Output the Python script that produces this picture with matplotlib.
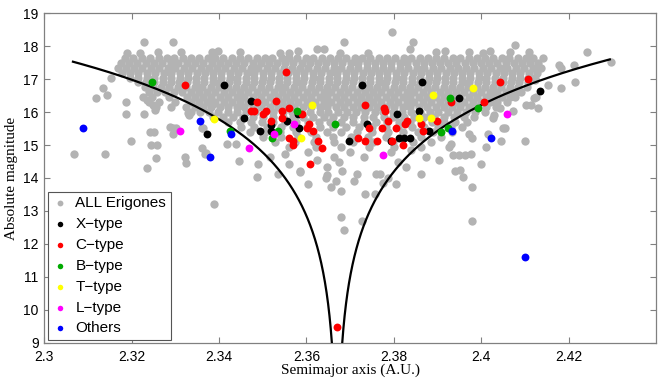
import matplotlib
matplotlib.use('Agg')
import matplotlib.pyplot as plt
import numpy as np

# ---------------- data ----------------
# dense core of the "ALL Erigones" cloud, read row by row (H, semimajor axes)
gray_rows = [
    (17.65, [2.3185, 2.3203, 2.3224, 2.3241, 2.3262, 2.3280, 2.3297, 2.3318, 2.3336, 2.3353, 2.3374, 2.3391, 2.3410, 2.3430, 2.3447, 2.3466, 2.3487, 2.3504, 2.3522, 2.3543, 2.3560, 2.3578, 2.3599, 2.3616, 2.3635, 2.3655, 2.3672, 2.3691, 2.3711, 2.3728, 2.3746, 2.3767, 2.3784, 2.3803, 2.3823, 2.3840, 2.3859, 2.3879, 2.3896, 2.3914, 2.3935, 2.3952, 2.3971, 2.3991, 2.4008, 2.4027, 2.4047, 2.4064, 2.4083, 2.4102, 2.4118]),
    (17.50, [2.3176, 2.3195, 2.3213, 2.3233, 2.3251, 2.3270, 2.3289, 2.3307, 2.3327, 2.3345, 2.3364, 2.3383, 2.3401, 2.3420, 2.3439, 2.3457, 2.3477, 2.3495, 2.3514, 2.3532, 2.3551, 2.3570, 2.3589, 2.3607, 2.3626, 2.3645, 2.3663, 2.3682, 2.3701, 2.3719, 2.3738, 2.3757, 2.3775, 2.3794, 2.3813, 2.3831, 2.3850, 2.3869, 2.3888, 2.3906, 2.3925, 2.3943, 2.3962, 2.3981, 2.4000, 2.4018, 2.4037, 2.4056, 2.4074, 2.4093, 2.4112, 2.4130]),
    (17.35, [2.3168, 2.3186, 2.3206, 2.3224, 2.3244, 2.3262, 2.3282, 2.3300, 2.3320, 2.3338, 2.3358, 2.3376, 2.3396, 2.3414, 2.3434, 2.3452, 2.3472, 2.3490, 2.3510, 2.3528, 2.3548, 2.3566, 2.3586, 2.3604, 2.3624, 2.3642, 2.3662, 2.3680, 2.3700, 2.3718, 2.3738, 2.3756, 2.3776, 2.3794, 2.3814, 2.3832, 2.3852, 2.3870, 2.3890, 2.3908, 2.3928, 2.3946, 2.3966, 2.3984, 2.4004, 2.4022, 2.4042, 2.4060, 2.4080, 2.4098, 2.4118, 2.4136]),
    (17.20, [2.3178, 2.3197, 2.3215, 2.3235, 2.3253, 2.3273, 2.3291, 2.3311, 2.3329, 2.3349, 2.3367, 2.3387, 2.3405, 2.3425, 2.3443, 2.3463, 2.3481, 2.3501, 2.3519, 2.3539, 2.3557, 2.3577, 2.3595, 2.3615, 2.3633, 2.3653, 2.3671, 2.3691, 2.3709, 2.3729, 2.3747, 2.3767, 2.3785, 2.3805, 2.3823, 2.3843, 2.3861, 2.3881, 2.3899, 2.3919, 2.3937, 2.3957, 2.3975, 2.3995, 2.4013, 2.4033, 2.4051, 2.4071, 2.4089, 2.4109, 2.4127]),
    (17.05, [2.3196, 2.3214, 2.3234, 2.3252, 2.3272, 2.3290, 2.3310, 2.3328, 2.3348, 2.3366, 2.3386, 2.3404, 2.3424, 2.3442, 2.3462, 2.3480, 2.3500, 2.3518, 2.3538, 2.3556, 2.3576, 2.3594, 2.3614, 2.3632, 2.3652, 2.3670, 2.3690, 2.3708, 2.3728, 2.3746, 2.3766, 2.3784, 2.3804, 2.3822, 2.3842, 2.3860, 2.3880, 2.3898, 2.3918, 2.3936, 2.3956, 2.3974, 2.3994, 2.4012, 2.4032, 2.4050, 2.4070, 2.4088, 2.4108, 2.4124]),
    (16.90, [2.3214, 2.3233, 2.3251, 2.3271, 2.3289, 2.3309, 2.3327, 2.3347, 2.3365, 2.3385, 2.3403, 2.3423, 2.3441, 2.3461, 2.3479, 2.3499, 2.3517, 2.3537, 2.3555, 2.3575, 2.3593, 2.3613, 2.3631, 2.3651, 2.3669, 2.3689, 2.3707, 2.3727, 2.3745, 2.3765, 2.3783, 2.3803, 2.3821, 2.3841, 2.3859, 2.3879, 2.3897, 2.3917, 2.3935, 2.3955, 2.3973, 2.3993, 2.4011, 2.4031, 2.4049, 2.4069, 2.4087, 2.4107]),
    (16.75, [2.3230, 2.3248, 2.3268, 2.3286, 2.3306, 2.3324, 2.3344, 2.3362, 2.3382, 2.3400, 2.3420, 2.3438, 2.3458, 2.3476, 2.3496, 2.3514, 2.3534, 2.3552, 2.3572, 2.3590, 2.3610, 2.3628, 2.3648, 2.3666, 2.3686, 2.3704, 2.3724, 2.3742, 2.3762, 2.3780, 2.3800, 2.3818, 2.3838, 2.3856, 2.3876, 2.3894, 2.3914, 2.3932, 2.3952, 2.3970, 2.3990, 2.4008, 2.4028, 2.4046, 2.4066, 2.4084, 2.4104]),
    (16.60, [2.3240, 2.3259, 2.3277, 2.3297, 2.3315, 2.3335, 2.3353, 2.3373, 2.3391, 2.3411, 2.3429, 2.3449, 2.3467, 2.3487, 2.3505, 2.3525, 2.3543, 2.3563, 2.3581, 2.3601, 2.3619, 2.3639, 2.3657, 2.3677, 2.3695, 2.3715, 2.3733, 2.3753, 2.3771, 2.3791, 2.3809, 2.3829, 2.3847, 2.3867, 2.3885, 2.3905, 2.3923, 2.3943, 2.3961, 2.3981, 2.3999, 2.4019, 2.4037, 2.4057, 2.4075, 2.4092]),
    (16.45, [2.3226, 2.3246, 2.3286, 2.3326, 2.3344, 2.3364, 2.3382, 2.3402, 2.3420, 2.3440, 2.3458, 2.3478, 2.3496, 2.3516, 2.3534, 2.3554, 2.3572, 2.3592, 2.3610, 2.3630, 2.3648, 2.3668, 2.3686, 2.3706, 2.3724, 2.3744, 2.3762, 2.3782, 2.3800, 2.3820, 2.3838, 2.3858, 2.3876, 2.3896, 2.3914, 2.3934, 2.3952, 2.3972, 2.3990, 2.4010, 2.4028, 2.4048, 2.4066, 2.4078]),
    (16.30, [2.3240, 2.3262, 2.3300, 2.3335, 2.3353, 2.3373, 2.3391, 2.3411, 2.3429, 2.3449, 2.3467, 2.3487, 2.3505, 2.3525, 2.3543, 2.3563, 2.3581, 2.3601, 2.3619, 2.3639, 2.3657, 2.3677, 2.3695, 2.3715, 2.3733, 2.3753, 2.3771, 2.3791, 2.3809, 2.3829, 2.3847, 2.3867, 2.3885, 2.3905, 2.3923, 2.3943, 2.3961, 2.3981, 2.3999, 2.4019, 2.4037, 2.4058]),
    (16.15, [2.3256, 2.3290, 2.3325, 2.3346, 2.3364, 2.3382, 2.3402, 2.3420, 2.3440, 2.3458, 2.3478, 2.3496, 2.3516, 2.3534, 2.3554, 2.3572, 2.3592, 2.3610, 2.3630, 2.3648, 2.3668, 2.3686, 2.3706, 2.3724, 2.3744, 2.3762, 2.3782, 2.3800, 2.3820, 2.3838, 2.3858, 2.3876, 2.3896, 2.3914, 2.3934, 2.3952, 2.3972, 2.3990, 2.4010, 2.4033]),
    (16.00, [2.3335, 2.3356, 2.3378, 2.3398, 2.3420, 2.3440, 2.3462, 2.3482, 2.3504, 2.3524, 2.3546, 2.3566, 2.3588, 2.3608, 2.3630, 2.3650, 2.3672, 2.3692, 2.3714, 2.3734, 2.3756, 2.3776, 2.3798, 2.3818, 2.3840, 2.3860, 2.3882, 2.3902, 2.3924, 2.3944, 2.3966, 2.3986, 2.4008]),
    (15.85, [2.3385, 2.3409, 2.3431, 2.3455, 2.3477, 2.3501, 2.3523, 2.3547, 2.3569, 2.3593, 2.3615, 2.3639, 2.3661, 2.3685, 2.3707, 2.3731, 2.3753, 2.3777, 2.3799, 2.3823, 2.3845, 2.3869, 2.3891, 2.3915, 2.3937, 2.3961, 2.3984]),
    (15.70, [2.3420, 2.3447, 2.3472, 2.3499, 2.3524, 2.3551, 2.3576, 2.3603, 2.3628, 2.3655, 2.3680, 2.3707, 2.3732, 2.3759, 2.3784, 2.3811, 2.3836, 2.3863, 2.3888, 2.3915, 2.3940, 2.3968]),
    (15.55, [2.3450, 2.3481, 2.3510, 2.3541, 2.3570, 2.3601, 2.3630, 2.3661, 2.3690, 2.3721, 2.3750, 2.3781, 2.3810, 2.3841, 2.3870, 2.3901, 2.3930, 2.3955]),
    (15.40, [2.3470, 2.3506, 2.3540, 2.3576, 2.3610, 2.3646, 2.3680, 2.3716, 2.3750, 2.3786, 2.3820, 2.3856, 2.3890, 2.3932]),
    (15.25, [2.3500, 2.3541, 2.3580, 2.3621, 2.3660, 2.3701, 2.3740, 2.3781, 2.3820, 2.3861, 2.3908]),
    (15.10, [2.3527, 2.3573, 2.3617, 2.3663, 2.3707, 2.3753, 2.3797, 2.3843, 2.3886]),
    (14.95, [2.3560, 2.3622, 2.3680, 2.3742, 2.3800, 2.3862]),
]

# scattered "ALL Erigones" points outside the dense core
gray_sx = [2.3228, 2.3295, 2.3687, 2.3796, 2.3843, 2.4077,
           2.3190, 2.3219, 2.3261, 2.3312, 2.3383, 2.3398, 2.3447, 2.3540, 2.3560, 2.3580, 2.3623, 2.3641,
           2.3676, 2.3741, 2.3837, 2.3897, 2.3916, 2.3971, 2.4003, 2.4021, 2.4065, 2.4110,
           2.3153, 2.3134, 2.3118, 2.3143, 2.3186, 2.3188, 2.3228, 2.3234, 2.3249, 2.3253, 2.3242, 2.3251,
           2.3198, 2.3245, 2.3257, 2.3068, 2.3140, 2.3255, 2.3235, 2.3322, 2.3324, 2.3360, 2.3367, 2.3446,
           2.3417, 2.3438, 2.3295, 2.3302, 2.3331, 2.3361, 2.3386, 2.3389, 2.3486, 2.3287, 2.3295, 2.3363,
           2.3371, 2.3329,
           2.3489, 2.3560, 2.3586, 2.3647, 2.3647, 2.3674, 2.3682, 2.3716, 2.3731, 2.3758, 2.3769, 2.3809,
           2.3827, 2.3861, 2.3927, 2.3935, 2.3950, 2.3962, 2.3940, 2.3550, 2.3516, 2.3603, 2.3623, 2.3664,
           2.3699, 2.3794, 2.3840, 2.3874, 2.3904,
           2.3535, 2.3603, 2.3644, 2.3657, 2.3667, 2.3678, 2.3678, 2.3687, 2.3708, 2.3727, 2.3735, 2.3757,
           2.3775, 2.3786, 2.3804, 2.3958, 2.3978, 2.3978, 2.3952, 2.3586,
           2.3973, 2.3978, 2.4011, 2.4015, 2.4026, 2.4030, 2.4049, 2.4055, 2.4046, 2.4101, 2.4042, 2.4072,
           2.4103, 2.4114, 2.4131, 2.4121, 2.4152, 2.3999, 2.3977, 2.3931,
           2.4141, 2.4131, 2.4126, 2.4179, 2.4183, 2.4213, 2.4243, 2.4297, 2.4215, 2.4183, 2.4122]
gray_sh = [18.12, 18.12, 18.12, 18.43, 18.12, 18.03,
           17.78, 17.80, 17.83, 17.83, 17.83, 17.86, 17.83, 17.78, 17.80, 17.85, 17.93, 17.93,
           17.78, 17.78, 17.93, 17.83, 17.85, 17.83, 17.78, 17.85, 17.83, 17.83,
           17.03, 16.72, 16.42, 16.52, 16.32, 15.93, 15.93, 16.37, 16.22, 16.05, 15.41, 15.41,
           15.12, 15.00, 15.00, 14.72, 14.72, 14.62, 14.31, 14.65, 14.45, 14.92, 14.72, 14.52,
           15.02, 15.02, 15.52, 15.52, 15.91, 15.52, 16.24, 13.20, 14.02, 15.56, 15.33, 15.53,
           14.75, 15.96,
           14.42, 14.42, 14.21, 14.34, 14.09, 14.49, 14.21, 14.12, 14.65, 14.12, 14.12, 14.49,
           14.34, 14.12, 14.95, 14.70, 14.70, 14.70, 14.21, 14.73, 14.65, 14.80, 14.55, 14.65,
           14.80, 14.80, 14.85, 14.65, 14.55,
           14.12, 13.82, 13.99, 13.72, 13.92, 13.61, 12.83, 12.42, 13.92, 12.70, 13.51, 13.51,
           13.86, 13.99, 13.82, 14.02, 13.72, 12.70, 14.24, 14.19,
           15.33, 15.21, 14.95, 15.35, 15.81, 15.91, 15.53, 15.53, 15.12, 15.12, 16.12, 16.03,
           16.22, 16.22, 16.12, 16.42, 16.82, 14.42, 14.72, 15.02,
           17.63, 17.33, 16.47, 17.43, 17.33, 17.43, 17.83, 17.53, 16.92, 16.72, 16.98]

x_type_a = [2.3411, 2.3473, 2.3457, 2.3372, 2.3494, 2.3518, 2.3519, 2.3556, 2.3581, 2.3583, 2.3697, 2.3726,
            2.3807, 2.3739, 2.3794, 2.3811, 2.3824, 2.3837, 2.3865, 2.3857, 2.3881, 2.3948, 2.4135]
x_type_h = [16.83, 16.33, 15.82, 15.33, 15.42, 15.42, 15.60, 15.73, 15.93, 15.53, 15.12, 16.83,
            15.93, 15.63, 15.12, 15.22, 15.22, 15.22, 16.92, 16.03, 15.43, 16.42, 16.63]

c_type_a = [2.3323, 2.3473, 2.3481, 2.3487, 2.3553, 2.3530, 2.3501, 2.3508, 2.3544, 2.3560, 2.3589, 2.3544,
            2.3518, 2.3606, 2.3601, 2.3614, 2.3560, 2.3569, 2.3569, 2.3626, 2.3635, 2.3609, 2.3671,
            2.3735, 2.3777, 2.3779, 2.3787, 2.3743, 2.3773, 2.3806, 2.3829, 2.3825, 2.3861, 2.3867, 2.3899,
            2.3718, 2.3735, 2.3762, 2.3796, 2.3821, 2.3931, 2.4042, 2.4106, 2.4007]
c_type_h = [16.83, 16.03, 16.03, 16.32, 17.22, 16.33, 15.93, 16.03, 16.03, 16.12, 15.93, 15.82,
            15.73, 15.63, 15.53, 15.43, 15.22, 15.12, 15.00, 15.12, 14.92, 14.42, 9.48,
            16.23, 16.12, 16.03, 15.73, 15.53, 15.53, 15.53, 15.73, 15.63, 15.63, 15.43, 15.73,
            15.22, 15.12, 15.12, 15.12, 15.01, 16.32, 16.92, 17.01, 16.32]

b_type_a = [2.3246, 2.3424, 2.3578, 2.3536, 2.3520, 2.3666, 2.3928, 2.3992, 2.3923, 2.3908]
b_type_h = [16.92, 15.43, 16.03, 15.42, 15.22, 15.63, 16.42, 16.12, 15.53, 15.41]

t_type_a = [2.3388, 2.3612, 2.3588, 2.3890, 2.3858, 2.3884, 2.3982]
t_type_h = [15.80, 16.23, 15.21, 16.53, 15.82, 15.82, 16.72]

l_type_a = [2.3310, 2.3468, 2.3525, 2.3572, 2.3776, 2.4059]
l_type_h = [15.43, 14.92, 15.33, 15.63, 14.71, 15.93]

others_a = [2.3088, 2.3357, 2.3428, 2.3379, 2.3934, 2.4023, 2.4100]
others_h = [15.53, 15.73, 15.33, 14.63, 15.42, 15.21, 11.60]

# V-shape (Yarkovsky) envelope parameters
v_center = 2.367
v_c = 1.885e-5
v_hmax_left = 17.53
v_hmax_right = 17.60

x_ticks = [2.30, 2.32, 2.34, 2.36, 2.38, 2.40, 2.42]
x_tick_labels = ['2.3', '2.32', '2.34', '2.36', '2.38', '2.4', '2.42']
y_ticks = list(range(9, 20))

# ---------------- plot ----------------
sans = ['Liberation Sans', 'DejaVu Sans']
serif = ['Liberation Serif', 'DejaVu Serif']
plt.rcParams['font.family'] = sans

fig = plt.figure(figsize=(6.64, 3.85), dpi=100)
ax = fig.add_axes([0.0667, 0.1099, 0.9213, 0.8556])

gx = [x for h, xs in gray_rows for x in xs] + gray_sx
gh = [h for h, xs in gray_rows for x in xs] + gray_sh

ms_gray = 36
ms = 32
ax.scatter(gx, gh, s=ms_gray, c='#b3b3b3', linewidths=0, label='ALL Erigones', zorder=2)

hl = np.linspace(9, v_hmax_left, 400)
hr = np.linspace(9, v_hmax_right, 400)
ax.plot(v_center - v_c * 10 ** (hl / 5), hl, color='black', lw=1.6, zorder=3)
ax.plot(v_center + v_c * 10 ** (hr / 5), hr, color='black', lw=1.6, zorder=3)

groups = [
    (x_type_a, x_type_h, '#000000', 'X\u2212type'),
    (c_type_a, c_type_h, '#ff0000', 'C\u2212type'),
    (b_type_a, b_type_h, '#00aa00', 'B\u2212type'),
    (t_type_a, t_type_h, '#ffff00', 'T\u2212type'),
    (l_type_a, l_type_h, '#ff00ff', 'L\u2212type'),
    (others_a, others_h, '#0000ff', 'Others'),
]
for a, h, col, lab in groups:
    ax.scatter(a, h, s=ms, c=col, linewidths=0, label=lab, zorder=4)

ax.set_xlim(2.30, 2.44)
ax.set_ylim(9, 19)
ax.set_xticks(x_ticks)
ax.set_xticklabels(x_tick_labels)
ax.set_yticks(y_ticks)
ax.tick_params(direction='in', top=True, right=True, length=4, width=0.8,
               color='#808080', labelsize=10)
ax.tick_params(axis='x', pad=5)
ax.tick_params(axis='y', pad=4)
for sp in ax.spines.values():
    sp.set_color('#808080')
    sp.set_linewidth(0.9)

ax.set_xlabel('Semimajor axis (A.U.)', family=serif, fontsize=11, labelpad=0)
ax.set_ylabel('Absolute magnitude', family=serif, fontsize=11, labelpad=4)

leg = ax.legend(loc='lower left', bbox_to_anchor=(0.006, 0.008), borderaxespad=0,
                fontsize=11, frameon=True, fancybox=False, framealpha=1,
                edgecolor='#555555', markerscale=0.7, handlelength=1.0,
                handletextpad=0.5, labelspacing=0.45, borderpad=0.3, scatterpoints=1)
leg.get_frame().set_linewidth(0.8)

fig.savefig('out.png', dpi=100)
